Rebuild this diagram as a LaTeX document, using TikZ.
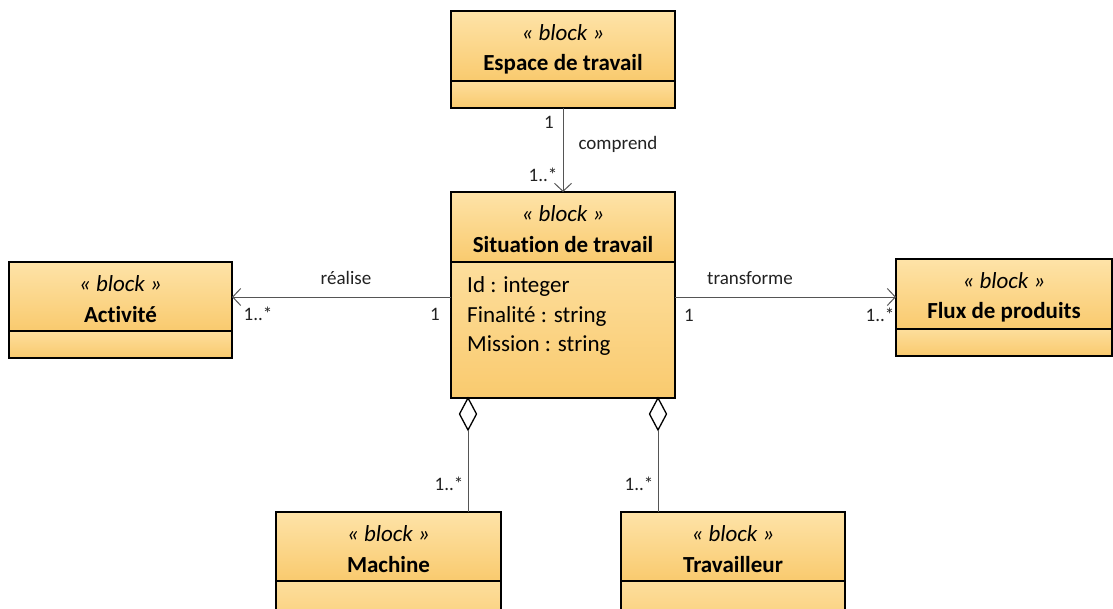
\documentclass[tikz,border=0pt]{standalone}
\usepackage{fontspec}
\setmainfont{Carlito}[Ligatures=NoCommon]
\usetikzlibrary{arrows.meta,shapes.geometric}
\definecolor{boxtop}{HTML}{FEE3A8}
\definecolor{boxbot}{HTML}{F9CA6E}
\definecolor{linegray}{HTML}{555555}
\definecolor{lbltext}{HTML}{222222}
\tikzset{
 headbox/.style={draw=black, line width=1.6pt, rectangle, top color=boxtop, bottom color=boxbot, inner sep=0, outer sep=0},
 bodybox/.style={draw=black, line width=1.6pt, rectangle, top color=boxtop!80!boxbot, bottom color=boxbot, inner sep=0, outer sep=0},
 stereo/.style={font=\fontsize{23}{27}\selectfont\itshape, inner sep=0},
 btitle/.style={font=\fontsize{23}{27}\selectfont\bfseries, inner sep=0},
 attr/.style={font=\fontsize{23}{27}\selectfont, anchor=west, inner sep=0},
 lbl/.style={font=\fontsize{19}{22}\selectfont, text=lbltext, inner sep=0},
 assoc/.style={draw=linegray, line width=1pt, -{Straight Barb[length=8pt,width=17pt,line width=1pt]}},
 aggr/.style={draw=linegray, line width=1pt},
 diam/.style={diamond, draw=black, line width=1.3pt, fill=white, minimum width=17pt, minimum height=32pt, inner sep=0, outer sep=0}
}
\newcommand{\umlblock}[7]{%
 \node[headbox, minimum width=#4pt, minimum height=#5pt, anchor=north] (#1) at (#2,#3) {};
 \node[bodybox, minimum width=#4pt, minimum height=#6pt, anchor=north] (#1-b) at (#1.south) {};
 \node[stereo] (#1-s) at ([yshift=-21.5pt]#1.north) {« block »};
 \node[btitle] (#1-t) at ([yshift=-53pt]#1.north) {#7};
}
\begin{document}
\begin{tikzpicture}[x=1pt,y=-1pt]
\clip (0,0) rectangle (1113,608);
\fill[white] (0,0) rectangle (1113,608);
% blocks
\umlblock{esp}{563}{11}{224}{70}{27}{Espace de travail}
\umlblock{sit}{563}{192}{224}{70}{136}{Situation de travail}
\umlblock{act}{120.5}{262}{223}{69}{27}{Activité}
\umlblock{flux}{1004}{259}{216}{70}{27}{Flux de produits}
\umlblock{mach}{388.5}{512}{225}{69}{60}{Machine}
\umlblock{trav}{733}{512}{224}{69}{60}{Travailleur}
% attributes
\node[attr] (a1) at (467,286) {Id : integer};
\node[attr] (a2) at (467,316) {Finalité : string};
\node[attr] (a3) at (467,346) {Mission : string};
% comprend
\draw[assoc] (esp-b.south) -- (sit.north);
\node[lbl] (l1) at (549,122) {1};
\node[lbl] (l2) at (618,144) {comprend};
\node[lbl] (l3) at (543,175) {1..*};
% realise
\coordinate (rs) at (451,297);
\draw[assoc] (rs) -- (rs -| act.east);
\node[lbl] (l4) at (346,278) {réalise};
\node[lbl] (l5) at (258,314) {1..*};
\node[lbl] (l6) at (435,314) {1};
% transforme
\coordinate (ts) at (675,297);
\draw[assoc] (ts) -- (ts -| flux.west);
\node[lbl] (l7) at (750,278) {transforme};
\node[lbl] (l8) at (689,315) {1};
\node[lbl] (l9) at (880,315) {1..*};
% aggregations
\node[diam] (dA) at (468,414) {};
\node[diam] (dB) at (658,414) {};
\draw[aggr] (dA.south) -- (dA.south |- mach.north);
\draw[aggr] (dB.south) -- (dB.south |- trav.north);
\node[lbl] (l10) at (449,484) {1..*};
\node[lbl] (l11) at (639,484) {1..*};
\end{tikzpicture}
\end{document}
